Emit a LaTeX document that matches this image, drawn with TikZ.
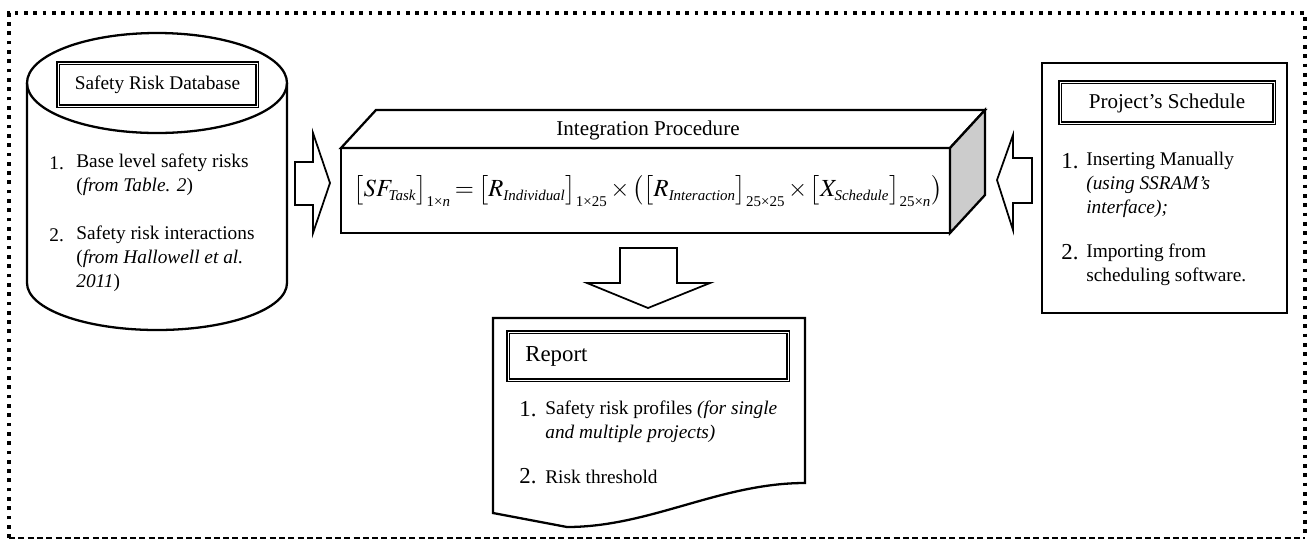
\documentclass[tikz,border=0pt]{standalone}
\usepackage{mathptmx}
\usepackage{fontspec}
\setmainfont{Liberation Serif}
\usetikzlibrary{calc}
\tikzstyle{box} = [draw=black, line width=1.3pt, line join=miter]
\tikzstyle{titlebox} = [draw=black, double, line width=1pt, double distance=0.5pt]
\tikzstyle{blockarrow} = [draw=black, line width=1pt, fill=white, line join=miter]
\tikzstyle{item} = [inner sep=0pt, font=\fontsize{11}{13.6}\selectfont, align=left, anchor=west]
\tikzstyle{num} = [inner sep=0pt, anchor=west]
\tikzstyle{framedots} = [line width=2.1pt, dash pattern=on 2.1pt off 3.2pt]
\tikzstyle{framedash} = [line width=0.8pt, dash pattern=on 3.4pt off 1.9pt]
\newcommand{\msub}[1]{\mbox{\fontsize{8.5}{9}\selectfont #1}}

\begin{document}
\begin{tikzpicture}[x=0.02cm, y=-0.02cm]
\useasboundingbox (0,0) rectangle (1316,542);

\draw[framedots] (9,538) -- (9,13) -- (1305,13) -- (1305,538);
\draw[framedash] (9,538) -- (1305,538);

% database
\draw[box] (27,83) -- (27,283) .. controls (27,309) and (85,330) .. (157,330)
  .. controls (229,330) and (287,309) .. (287,283) -- (287,83);
\draw[box] (157,83) ellipse [x radius=130, y radius=50];
\draw[titlebox] (58,63) rectangle (257,106);
\node (dbtitle) at (157.5,84.5) {\fontsize{11}{13}\selectfont Safety Risk Database};
\node[item] (dbnumA) at (49,163) {1.};
\node[item] (dbitemA) at (76,175) {Base level safety risks\\(\textit{from Table. 2})};
\node[item] (dbnumB) at (49,235) {2.};
\node[item] (dbitemB) at (76,258.5) {Safety risk interactions\\(\textit{from Hallowell et al.}\\\textit{2011})};

\draw[blockarrow] (295,162) -- (313,162) -- (313,133) -- (330,183) -- (313,233) -- (313,205) -- (295,205) -- cycle;

% integration
\draw[box] (341,148) -- (376,110) -- (985,110) -- (950,148) -- cycle;
\draw[box, fill=gray!40] (950,148) -- (985,110) -- (985,195) -- (950,233) -- cycle;
\draw[box] (341,148) rectangle (950,233);
\node (inttitle) at (648,130) {\fontsize{12}{14}\selectfont Integration Procedure};
\node[inner sep=0pt] (formula) at (648,191) {\fontsize{14}{17}\selectfont
  \medmuskip=2mu \thickmuskip=3mu
  $\bigl[SF_{\msub{\itshape Task}}\bigr]_{\msub{1×\textit{n}}}=\bigl[R_{\msub{\itshape Individual}}\bigr]_{\msub{1×25}}\times\bigl(\bigl[R_{\msub{\itshape Interaction}}\bigr]_{\msub{25×25}}\times\bigl[X_{\msub{\itshape Schedule}}\bigr]_{\msub{25×\textit{n}}}\bigr)$};

\draw[blockarrow] (1032,158) -- (1013,158) -- (1013,135) -- (997,180) -- (1013,230) -- (1013,203) -- (1032,203) -- cycle;

% schedule
\draw[box] (1042,63) rectangle (1287,313);
\draw[titlebox] (1060,82) rectangle (1274,123);
\node (schtitle) at (1167,103) {\fontsize{12}{14}\selectfont Project's Schedule};
\node[num] (schnumA) at (1061,161) {\fontsize{13}{15}\selectfont 1.};
\node[item] (schitemA) at (1086,185) {Inserting Manually\\\textit{(using SSRAM's}\\\textit{interface);}};
\node[num] (schnumB) at (1061,252) {\fontsize{13}{15}\selectfont 2.};
\node[item] (schitemB) at (1086,265) {Importing from\\scheduling software.};

\draw[blockarrow] (620,248) -- (677,248) -- (677,283) -- (710,283) -- (648,308) -- (587,283) -- (620,283) -- cycle;

% report
\draw[box] (493,513) -- (493,318) -- (805,318) -- (805,483)
  .. controls (720,483) and (650,527) .. (567,527) -- cycle;
\draw[titlebox] (508,332) rectangle (788,380);
\node[num] (reptitle) at (525,356) {\fontsize{13}{15}\selectfont Report};
\node[num] (repnumA) at (519,409) {\fontsize{13}{15}\selectfont 1.};
\node[item] (repitemA) at (545,421.5) {Safety risk profiles \textit{(for single}\\\textit{and multiple projects)}};
\node[num] (repnumB) at (519,476) {\fontsize{13}{15}\selectfont 2.};
\node[item] (repitemB) at (545,477) {Risk threshold};
\end{tikzpicture}
\end{document}
